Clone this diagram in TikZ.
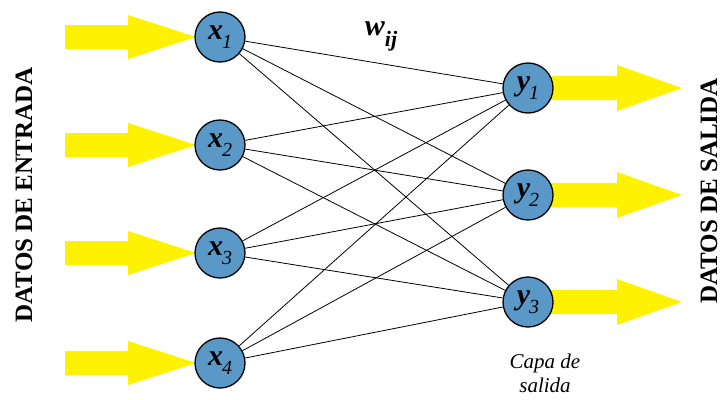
\documentclass[tikz,border=0pt]{standalone}
\usepackage{fontspec}
\setmainfont{Liberation Serif}
\definecolor{neuronblue}{RGB}{90,152,200}
\newcommand{\etiq}[2]{{\fontsize{30}{30}\selectfont\bfseries\itshape #1}\kern-1pt\raisebox{-9pt}{\fontsize{20}{20}\selectfont\itshape #2}}
\begin{document}
\begin{tikzpicture}[x=1pt,y=-1pt,
	neuron/.style={circle,draw=black,line width=1.3pt,fill=neuronblue,minimum size=50pt,inner sep=0pt},
	link/.style={line width=0.8pt},
	flecha/.style={fill=yellow,draw=none},
	titulo/.style={rotate=90,font=\fontspec{Liberation Serif}\bfseries\fontsize{25}{25}\selectfont}]
	\useasboundingbox (0,0) rectangle (722,399);
	\fill[white] (0,0) rectangle (722,399);
	% flechas de entrada y de salida
	\foreach \yy in {37,145,253,363}
		\fill[flecha] (65,\yy-12) -- (128,\yy-12) -- (128,\yy-22) -- (196,\yy) -- (128,\yy+22) -- (128,\yy+12) -- (65,\yy+12) -- cycle;
	\foreach \yy in {88,195,302}
		\fill[flecha] (545,\yy-12) -- (617,\yy-12) -- (617,\yy-23) -- (682,\yy) -- (617,\yy+23) -- (617,\yy+12) -- (545,\yy+12) -- cycle;
	% neuronas
	\foreach \i/\yy in {1/37,2/145,3/253,4/363}
		\node[neuron] (x\i) at (220,\yy) {\etiq{x}{\i}};
	\foreach \j/\yy in {1/88,2/195,3/302}
		\node[neuron] (y\j) at (528,\yy) {\etiq{y}{\j}};
	% conexiones
	\foreach \i in {1,...,4}
		\foreach \j in {1,2,3}
			\draw[link] (x\i) -- (y\j);
	\node (peso) at (381,36) {\bfseries\itshape\fontsize{30}{30}\selectfont w\raisebox{-11pt}{\fontsize{22}{22}\selectfont ij}};
	\node[align=center,font=\itshape\fontsize{21}{24}\selectfont] (capa) at (545,373) {Capa de\\salida};
	\node[titulo] (entrada) at (24,195) {DATOS DE ENTRADA};
	\node[titulo] (salida) at (709,191) {DATOS DE SALIDA};
\end{tikzpicture}
\end{document}
